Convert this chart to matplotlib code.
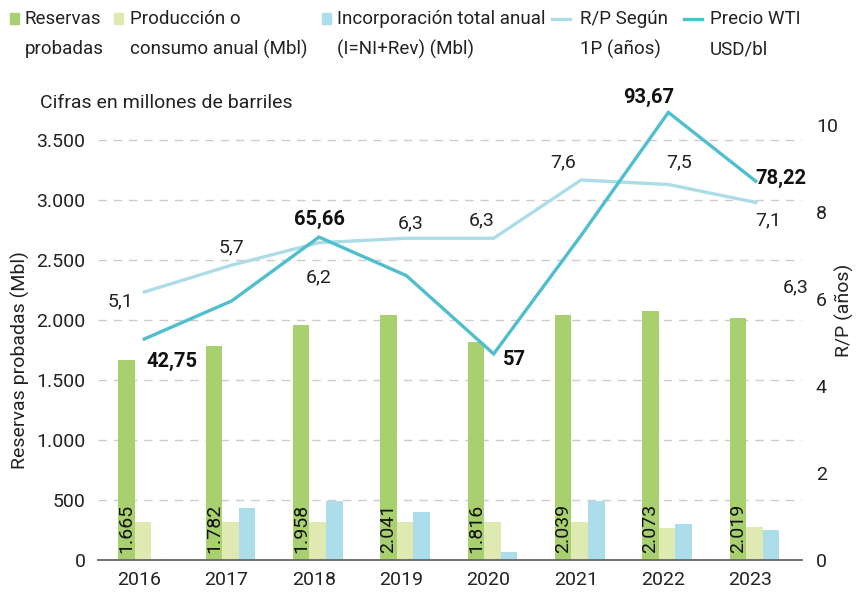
import matplotlib
matplotlib.use("Agg")
import matplotlib.pyplot as plt
from matplotlib.patches import Rectangle
from matplotlib.lines import Line2D
import numpy as np

plt.rcParams['font.family'] = ['Roboto', 'DejaVu Sans']

# data
years = ['2016', '2017', '2018', '2019', '2020', '2021', '2022', '2023']
reservas = [1665, 1782, 1958, 2041, 1816, 2039, 2073, 2019]
produccion = [320, 320, 320, 320, 320, 320, 265, 275]
incorporacion = [0, 430, 495, 400, 65, 490, 300, 250]
rp = [5.1, 5.7, 6.2, 6.3, 6.3, 7.6, 7.5, 7.1]
wti = [42.75, 51.3, 65.66, 57.0, 39.4, 66.0, 93.67, 78.22]
rp_labels = ['5,1', '5,7', '6,2', '6,3', '6,3', '7,6', '7,5', '7,1']
wti_labels = ['42,75', '', '65,66', '', '57', '', '93,67', '78,22']

c_res = '#a9d06f'
c_prod = '#dfeab2'
c_inc = '#abdeea'
c_rp = '#acdce8'
c_wti = '#4fbecd'
txt = '#222222'
fs = 14

W, H = 858, 599
fig = plt.figure(figsize=(W / 100, H / 100), dpi=100)
ax = fig.add_axes([98 / W, 39 / H, 704 / W, 460 / H])

x = np.arange(len(years))
w = 0.19
off = 0.046
ax.bar(x - w + off, reservas, w, color=c_res, zorder=2)
ax.bar(x + off, produccion, w, color=c_prod, zorder=2)
ax.bar(x + w + off, incorporacion, w, color=c_inc, zorder=2)
for xi, v in zip(x, reservas):
    ax.text(xi - w + off, 55, f"{v:,}".replace(',', '.'), rotation=90,
            ha='center', va='bottom', fontsize=fs, color='#111111', zorder=3)

ax.set_xlim(-0.47, 7.59)
ax.set_ylim(0, 3833)
ax.set_yticks(range(0, 3501, 500))
ax.set_yticklabels([f"{v:,}".replace(',', '.') for v in range(0, 3501, 500)])
ax.set_xticks(x)
ax.set_xticklabels(years)
ax.tick_params(axis='y', length=0, pad=9, labelsize=fs, labelcolor=txt)
ax.tick_params(axis='x', length=0, pad=8, labelsize=fs, labelcolor=txt)
ax.yaxis.grid(True, linestyle=(0, (6, 5)), color='#cccccc', lw=1)
ax.set_axisbelow(True)
for s in ['top', 'right', 'left']:
    ax.spines[s].set_visible(False)
ax.spines['bottom'].set_color('#666666')
ax.spines['bottom'].set_linewidth(1.3)
ax.set_ylabel('Reservas probadas (Mbl)', fontsize=fs, color=txt)
ax.yaxis.set_label_coords(-0.097, 0.435)

# right visible axis
ax2 = ax.twinx()
ax2.set_ylim(0, 10.575)
ax2.set_yticks(range(0, 11, 2))
ax2.tick_params(axis='y', length=0, pad=10, labelsize=fs, labelcolor=txt)
for s in ax2.spines.values():
    s.set_visible(False)
ax2.set_ylabel('R/P (años)', fontsize=fs, color=txt)
ax2.yaxis.set_label_coords(1.047, 0.543)

# R/P line
ax3 = ax.twinx()
ax3.set_ylim(-0.882, 9.386)
ax3.axis('off')
xl = x + 0.06
ax3.plot(xl, rp, color=c_rp, lw=2.4, solid_joinstyle='miter')
rp_off = [(-17, -7), (0, 13), (0, -25), (3, 11), (-9, 13), (-13, 13), (8, 16), (9, -13)]
for xi, v, lab, o in zip(xl, rp, rp_labels, rp_off):
    ax3.annotate(lab, (xi, v), xytext=o, textcoords='offset points',
                 ha='center', va='center', fontsize=fs, color=txt)
ax3.annotate('6,3', (xl[-1], rp[-1]), xytext=(29, -61), textcoords='offset points',
             ha='center', va='center', fontsize=fs, color=txt)

# WTI line
ax4 = ax.twinx()
ax4.set_ylim(-6.91, 96.46)
ax4.axis('off')
ax4.plot(xl, wti, color=c_wti, lw=2.4, solid_joinstyle='miter')
wti_off = [(20, -16), (0, 0), (0, 13), (0, 0), (15, -4), (0, 0), (-14, 11), (18, 2)]
for xi, v, lab, o in zip(xl, wti, wti_labels, wti_off):
    if lab:
        ax4.annotate(lab, (xi, v), xytext=o, textcoords='offset points',
                     ha='center', va='center', fontsize=fs + 0.5, fontweight='bold',
                     color='#111111')

# title
fig.text(40 / W, 1 - 103 / H, 'Cifras en millones de barriles', fontsize=fs,
         color=txt, ha='left', va='center')

# legend
def fx(px):
    return px / W

def fy(py):
    return 1 - py / H

lfs = 13.5
items = [
    ('sq', c_res, 10, 25, 'Reservas', 'probadas'),
    ('sq', c_prod, 114, 130, 'Producción o', 'consumo anual (Mbl)'),
    ('sq', c_inc, 322, 337, 'Incorporación total anual', '(I=NI+Rev) (Mbl)'),
    ('ln', c_rp, 552, 580, 'R/P Según', '1P (años)'),
    ('ln', c_wti, 684, 710, 'Precio WTI', 'USD/bl'),
]
for kind, col, mx, tx, l1, l2 in items:
    if kind == 'sq':
        fig.add_artist(Rectangle((fx(mx), fy(24)), 9 / W, 11 / H,
                                 transform=fig.transFigure, color=col))
    else:
        fig.add_artist(Line2D([fx(mx), fx(mx + 18)], [fy(19), fy(19)],
                              transform=fig.transFigure, color=col, lw=2.4))
    fig.text(fx(tx), fy(19), l1, fontsize=lfs, color=txt, ha='left', va='center')
    fig.text(fx(tx), fy(49), l2, fontsize=lfs, color=txt, ha='left', va='center')

fig.savefig('out.png', dpi=100)
